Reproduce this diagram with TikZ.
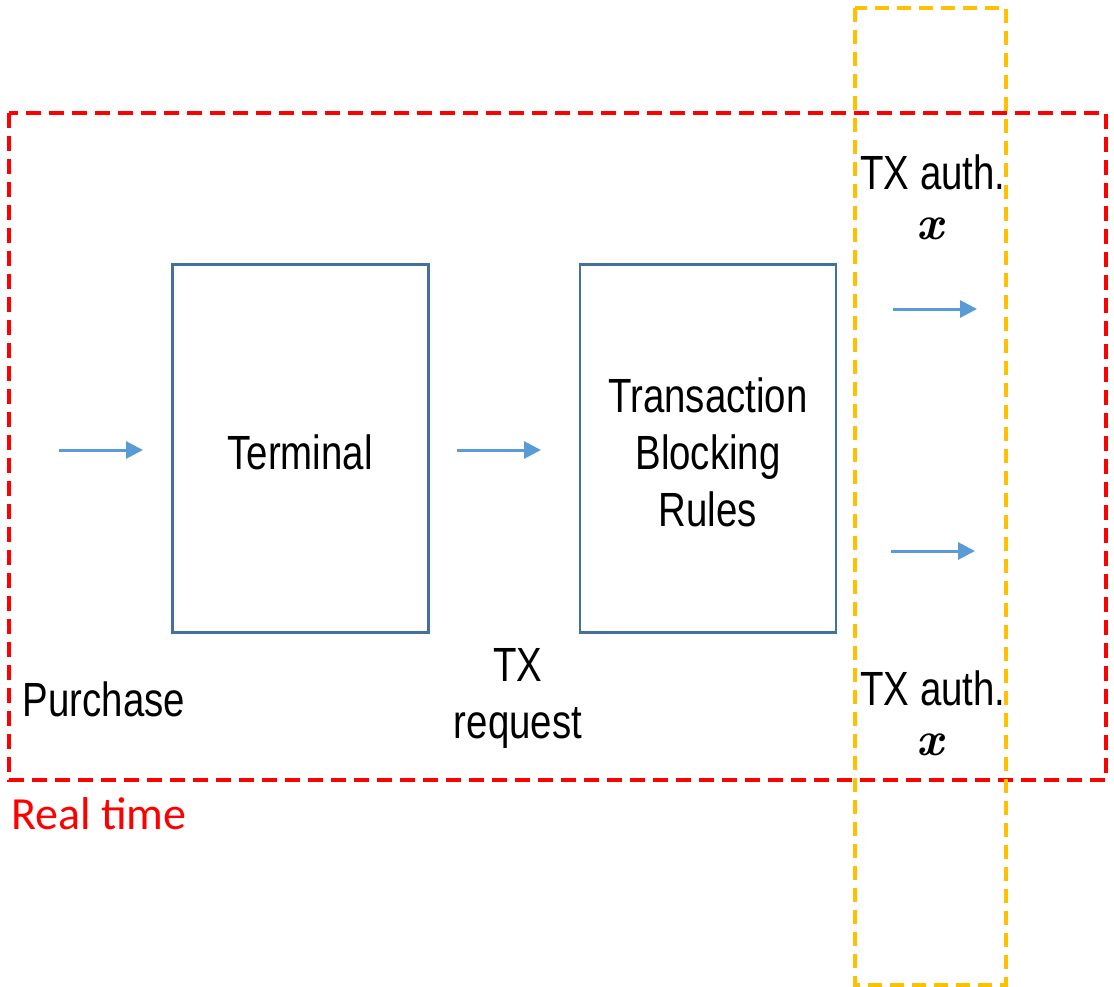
\documentclass[tikz,border=0pt]{standalone}
\usepackage{fontspec}
\setmainfont{Liberation Sans}
\newfontfamily\rtfont{Carlito}
\newfontfamily\varfont{Latin Modern Roman}
\usetikzlibrary{arrows.meta}
\definecolor{boxblue}{HTML}{41719C}
\definecolor{arrblue}{HTML}{5B9BD5}
\definecolor{rtred}{HTML}{FF0000}
\definecolor{frameorange}{HTML}{FFC000}
\tikzset{
  block/.style={draw=boxblue, line width=2.2pt, minimum width=256pt, minimum height=368pt, inner sep=0pt},
  flow/.style={draw=arrblue, line width=3pt, -{Triangle[length=17pt,width=17pt]}},
  lbl/.style={font=\fontsize{48}{57}\selectfont, xscale=0.8, align=center, inner sep=0pt},
  var/.style={font=\varfont\bfseries\itshape\fontsize{48}{48}\selectfont, inner sep=0pt},
}
\begin{document}
\begin{tikzpicture}[x=1pt, y=-1pt]
  \useasboundingbox (0,0) rectangle (1114,987);

  % real-time region and authorisation column
  \draw[rtred, line width=3.8pt, dash pattern=on 15pt off 8pt] (9,113) rectangle (1106,780);
  \draw[frameorange, line width=3.6pt, dash pattern=on 14pt off 8pt] (855,8) rectangle (1006,985);

  % processing blocks
  \node[block] (term) at (300.5,448.5) {};
  \node[block] (tbr) at (708,448.5) {};
  \node[lbl] (termtxt) at (300,452) {Terminal};
  \node[lbl] (tbrtxt) at (708,452) {Transaction\\Blocking\\Rules};

  % flow arrows
  \coordinate (a1s) at (59,450);  \coordinate (a1e) at (143,450);
  \coordinate (a2s) at (457,450); \coordinate (a2e) at (541,450);
  \coordinate (a3s) at (893,309); \coordinate (a3e) at (977,309);
  \coordinate (a4s) at (891,551); \coordinate (a4e) at (975,551);
  \draw[flow] (a1s) -- (a1e);
  \draw[flow] (a2s) -- (a2e);
  \draw[flow] (a3s) -- (a3e);
  \draw[flow] (a4s) -- (a4e);

  % labels
  \node[lbl] (purchase) at (104,699) {Purchase};
  \node[lbl] (txreq) at (518,698) {TX\\request};
  \node[lbl] (auth1) at (933,172) {TX auth.};
  \node[var] (x1) at (930,229) {x};
  \node[lbl] (auth2) at (933,688) {TX auth.};
  \node[var] (x2) at (930,745) {x};

  \node[text=rtred, font=\rtfont\fontsize{46}{46}\selectfont, inner sep=0pt, anchor=west] (rt) at (11,814) {Real time};
\end{tikzpicture}
\end{document}
